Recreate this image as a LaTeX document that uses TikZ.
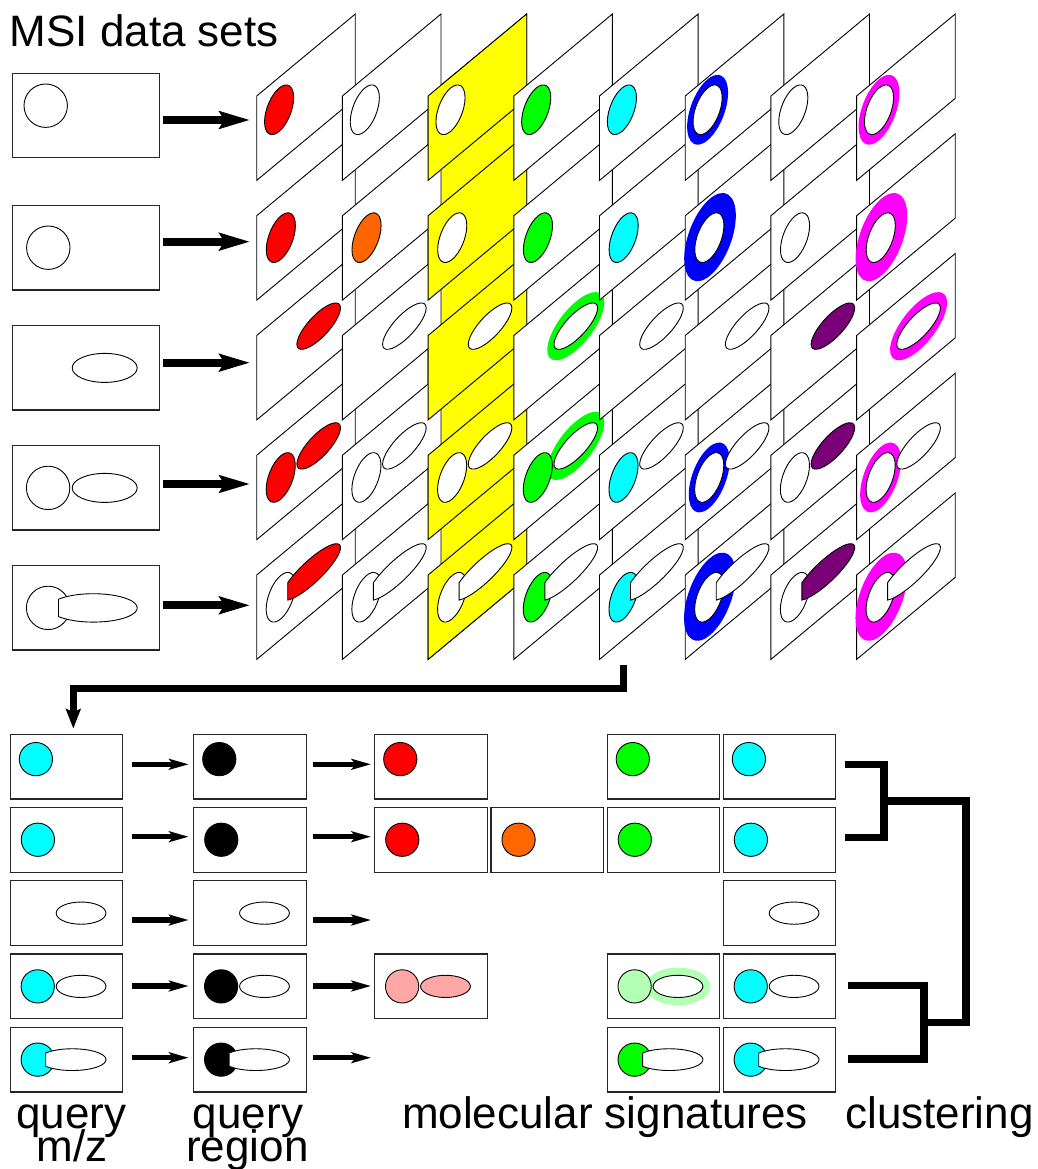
\documentclass[tikz,border=0pt]{standalone}
\usepackage{fontspec}
\setmainfont{Liberation Sans}
\usetikzlibrary{arrows.meta}
\definecolor{cRed}{HTML}{FF0000}
\definecolor{cOrange}{HTML}{FF6600}
\definecolor{cGreen}{HTML}{00FF00}
\definecolor{cCyan}{HTML}{00FFFF}
\definecolor{cBlue}{HTML}{0000FF}
\definecolor{cMag}{HTML}{FF00FF}
\definecolor{cPurple}{HTML}{7A0078}
\definecolor{cYellow}{HTML}{FFFF00}
\definecolor{cPink}{HTML}{FFA6A6}
\definecolor{cLgreen}{HTML}{B3FFB3}
% shapes in box-local units (box 147 x 84.4)
\newcommand\shC[3]{\draw[shp,fill=#3] (#1,#2) circle (21.7);}
\newcommand\shR[4]{\fill[#4] (#1,#2) circle (#3);}
\newcommand\shE[1]{\draw[shp,fill=#1] (92.4,42.2) ellipse (32.5 and 14.5);}
\newcommand\shER[1]{\fill[#1] (92.4,42.2) ellipse (42.5 and 24.5);}
\newcommand\shK[1]{\draw[shp,fill=#1] (46.23,50.9) arc[start angle=142.2,end angle=-142.2,x radius=44,y radius=14.2] -- cycle;}
% slanted plane in the grid: column, row, fill, content
\newcommand\pcell[4]{%
  \pgfmathsetmacro\cellLx{256.7+(#1-1)*85.7}%
  \pgfmathsetmacro\cellTy{96+(#2-1)*119.75}%
  \begin{scope}[cm={0.6707,0.5578,0,1,(\cellLx,\cellTy)}]
    \draw[pgram,fill=#3] (0,0) rectangle (147,84.4);
    #4
  \end{scope}}
% left data set box: name, left, top, content
\newcommand\mcell[4]{%
  \node[mbox] (#1) at (#2+73.5,#3+42.2) {};
  \begin{scope}[shift={(#2,#3)}] #4 \end{scope}}
% small box in lower part: name, left, top, content
\newcommand\bcell[4]{%
  \node[sbox] (#1) at (#2+56.25,#3+32.35) {};
  \begin{scope}[cm={0.766,0,0,0.766,(#2,#3)}] #4 \end{scope}}
\begin{document}
\begin{tikzpicture}[x=1pt,y=-1pt,
  shp/.style={draw=black,line width=0.9pt},
  pgram/.style={draw=black,line width=0.9pt,line join=miter},
  mbox/.style={draw=black!85,line width=1.3pt,fill=white,minimum width=147pt,minimum height=84.4pt,inner sep=0pt,outer sep=0pt},
  sbox/.style={draw=black!85,line width=1.2pt,fill=white,minimum width=112.5pt,minimum height=64.7pt,inner sep=0pt,outer sep=0pt},
  bigarrow/.style={line width=8.3pt,-{Stealth[length=31pt,width=18.7pt,inset=6pt,line width=0pt]}},
  sarrow/.style={line width=5.5pt,-{Stealth[length=20pt,width=11.5pt,inset=5pt,line width=0pt]}},
  thickline/.style={line width=7.5pt,line join=miter,line cap=butt},
  lbl/.style={font=\fontsize{44}{44}\selectfont,inner sep=0pt,outer sep=0pt}]
\fill[white] (0,0) rectangle (1037,1169);
\useasboundingbox (0,0) rectangle (1037,1169);

\node[lbl,anchor=base west] (title) at (9.7,46.5) {MSI data sets};

% left boxes
\mcell{m1}{12.3}{73.3}{\shC{33.4}{32.4}{white}}
\mcell{m2}{12.3}{205.7}{\shC{36}{42}{white}}
\mcell{m3}{12.3}{325.7}{\shE{white}}
\mcell{m4}{12.3}{445.7}{\shC{35.8}{42.2}{white}\shE{white}}
\mcell{m5}{12.3}{565.7}{\shC{35.8}{42.2}{white}\shK{white}}

% arrows to the grid
\foreach \yy [count=\i] in {120,241.7,362.7,484,605.3}{
  \coordinate (as\i) at (163.3,\yy);
  \coordinate (at\i) at (249.3,\yy);
  \draw[bigarrow] (as\i) -- (at\i);
}

% yellow band behind column 3
\draw[pgram,fill=cYellow] (428.1,96) -- (526.7,14) -- (526.7,577.4) -- (428.1,659.4) -- cycle;

% column 1
\pcell{1}{1}{white}{\shC{33.4}{32.4}{cRed}}
\pcell{1}{2}{white}{\shC{36}{42}{cRed}}
\pcell{1}{3}{white}{\shE{cRed}}
\pcell{1}{4}{white}{\shC{35.8}{42.2}{cRed}\shE{cRed}}
\pcell{1}{5}{white}{\shC{35.8}{42.2}{white}\shK{cRed}}
% column 2
\pcell{2}{1}{white}{\shC{33.4}{32.4}{white}}
\pcell{2}{2}{white}{\shC{36}{42}{cOrange}}
\pcell{2}{3}{white}{\shE{white}}
\pcell{2}{4}{white}{\shC{35.8}{42.2}{white}\shE{white}}
\pcell{2}{5}{white}{\shC{35.8}{42.2}{white}\shK{white}}
% column 3
\pcell{3}{1}{cYellow}{\shC{33.4}{32.4}{white}}
\pcell{3}{2}{cYellow}{\shC{36}{42}{white}}
\pcell{3}{3}{cYellow}{\shE{white}}
\pcell{3}{4}{cYellow}{\shC{35.8}{42.2}{white}\shE{white}}
\pcell{3}{5}{cYellow}{\shC{35.8}{42.2}{white}\shK{white}}
% column 4
\pcell{4}{1}{white}{\shC{33.4}{32.4}{cGreen}}
\pcell{4}{2}{white}{\shC{36}{42}{cGreen}}
\pcell{4}{3}{white}{\shER{cGreen}\shE{white}}
\pcell{4}{4}{white}{\shER{cGreen}\shC{35.8}{42.2}{cGreen}\shE{white}}
\pcell{4}{5}{white}{\shC{35.8}{42.2}{cGreen}\shK{white}}
% column 5
\pcell{5}{1}{white}{\shC{33.4}{32.4}{cCyan}}
\pcell{5}{2}{white}{\shC{36}{42}{cCyan}}
\pcell{5}{3}{white}{\shE{white}}
\pcell{5}{4}{white}{\shC{35.8}{42.2}{cCyan}\shE{white}}
\pcell{5}{5}{white}{\shC{35.8}{42.2}{cCyan}\shK{white}}
% column 6
\pcell{6}{1}{white}{\shR{33.4}{32.4}{30.5}{cBlue}\shC{33.4}{32.4}{white}}
\pcell{6}{2}{white}{\shR{37}{42}{38.5}{cBlue}\shC{36}{42}{white}}
\pcell{6}{3}{white}{\shE{white}}
\pcell{6}{4}{white}{\shR{35.8}{42.2}{30.5}{cBlue}\shC{35.8}{42.2}{white}\shE{white}}
\pcell{6}{5}{white}{\shR{36.8}{42.2}{38.5}{cBlue}\shC{35.8}{42.2}{white}\shK{white}}
% column 7
\pcell{7}{1}{white}{\shC{33.4}{32.4}{white}}
\pcell{7}{2}{white}{\shC{36}{42}{white}}
\pcell{7}{3}{white}{\shE{cPurple}}
\pcell{7}{4}{white}{\shC{35.8}{42.2}{white}\shE{cPurple}}
\pcell{7}{5}{white}{\shC{35.8}{42.2}{white}\shK{cPurple}}
% column 8
\pcell{8}{1}{white}{\shR{33.4}{32.4}{30.5}{cMag}\shC{33.4}{32.4}{white}}
\pcell{8}{2}{white}{\shR{37}{42}{38.5}{cMag}\shC{36}{42}{white}}
\pcell{8}{3}{white}{\shER{cMag}\shE{white}}
\pcell{8}{4}{white}{\shR{35.8}{42.2}{30.5}{cMag}\shC{35.8}{42.2}{white}\shE{white}}
\pcell{8}{5}{white}{\shR{36.8}{42.2}{38.5}{cMag}\shC{35.8}{42.2}{white}\shK{white}}

% bent connector to the lower part
\coordinate (bA) at (623.5,665);
\coordinate (bB) at (623.5,688.3);
\coordinate (bC) at (73.3,688.3);
\coordinate (bD) at (73.3,728.3);
\draw[thickline,line width=7.3pt,-{Stealth[length=20pt,width=15.7pt,inset=4pt,line width=0pt]}] (bA) -- (bB) -- (bC) -- (bD);

% lower boxes
\bcell{qa1}{10.3}{734.3}{\shC{33.4}{32.4}{cCyan}}
\bcell{qb1}{193.7}{734.3}{\shC{33.4}{32.4}{black}}
\bcell{qc1}{374.7}{734.3}{\shC{33.4}{32.4}{cRed}}
\bcell{qe1}{607.2}{734.3}{\shC{33.4}{32.4}{cGreen}}
\bcell{qf1}{723.3}{734.3}{\shC{33.4}{32.4}{cCyan}}

\bcell{qa2}{10.3}{807.55}{\shC{36}{42}{cCyan}}
\bcell{qb2}{193.7}{807.55}{\shC{36}{42}{black}}
\bcell{qc2}{374.7}{807.55}{\shC{36}{42}{cRed}}
\bcell{qd2}{491}{807.55}{\shC{36}{42}{cOrange}}
\bcell{qe2}{607.2}{807.55}{\shC{36}{42}{cGreen}}
\bcell{qf2}{723.3}{807.55}{\shC{36}{42}{cCyan}}

\bcell{qa3}{10.3}{880.8}{\shE{white}}
\bcell{qb3}{193.7}{880.8}{\shE{white}}
\bcell{qf3}{723.3}{880.8}{\shE{white}}

\bcell{qa4}{10.3}{954.05}{\shC{35.8}{42.2}{cCyan}\shE{white}}
\bcell{qb4}{193.7}{954.05}{\shC{35.8}{42.2}{black}\shE{white}}
\bcell{qc4}{374.7}{954.05}{\shC{35.8}{42.2}{cPink}\shE{cPink}}
\bcell{qe4}{607.2}{954.05}{\shER{cLgreen}\shC{35.8}{42.2}{cLgreen}\shE{white}}
\bcell{qf4}{723.3}{954.05}{\shC{35.8}{42.2}{cCyan}\shE{white}}

\bcell{qa5}{10.3}{1027.3}{\shC{35.8}{42.2}{cCyan}\shK{white}}
\bcell{qb5}{193.7}{1027.3}{\shC{35.8}{42.2}{black}\shK{white}}
\bcell{qe5}{607.2}{1027.3}{\shC{35.8}{42.2}{cGreen}\shK{white}}
\bcell{qf5}{723.3}{1027.3}{\shC{35.8}{42.2}{cCyan}\shK{white}}

% small arrows
\foreach \yy [count=\i] in {764.3,836.7,920,986,1057.7}{
  \coordinate (ra\i) at (131.7,\yy);
  \coordinate (rb\i) at (188.3,\yy);
  \coordinate (rc\i) at (313.3,\yy);
  \coordinate (rd\i) at (370.7,\yy);
  \draw[sarrow] (ra\i) -- (rb\i);
  \draw[sarrow] (rc\i) -- (rd\i);
}

% clustering brackets
\coordinate (k1) at (844.8,764.3);
\coordinate (k2) at (884,764.3);
\coordinate (k3) at (884,837.3);
\coordinate (k4) at (844.8,837.3);
\coordinate (k5) at (884,800.8);
\coordinate (k6) at (966,800.8);
\coordinate (k7) at (966,1022.3);
\coordinate (k8) at (924,1022.3);
\coordinate (k9) at (848.4,985.7);
\coordinate (k10) at (924,985.7);
\coordinate (k11) at (924,1059);
\coordinate (k12) at (848.4,1059);
\draw[thickline] (k1) -- (k2) -- (k3) -- (k4);
\draw[thickline] (k5) -- (k6) -- (k7) -- (k8);
\draw[thickline] (k9) -- (k10) -- (k11) -- (k12);

% labels
\node[lbl,anchor=base] (l1a) at (71.5,1128.3) {query};
\node[lbl,anchor=base] (l1b) at (72.2,1161.7) {m/z};
\node[lbl,anchor=base] (l2a) at (248,1128.3) {query};
\node[lbl,anchor=base] (l2b) at (247.5,1161.7) {region};
\node[lbl,anchor=base west] (l3) at (402,1128) {molecular signatures};
\node[lbl,anchor=base west] (l4) at (845.3,1128) {clustering};
\end{tikzpicture}
\end{document}
